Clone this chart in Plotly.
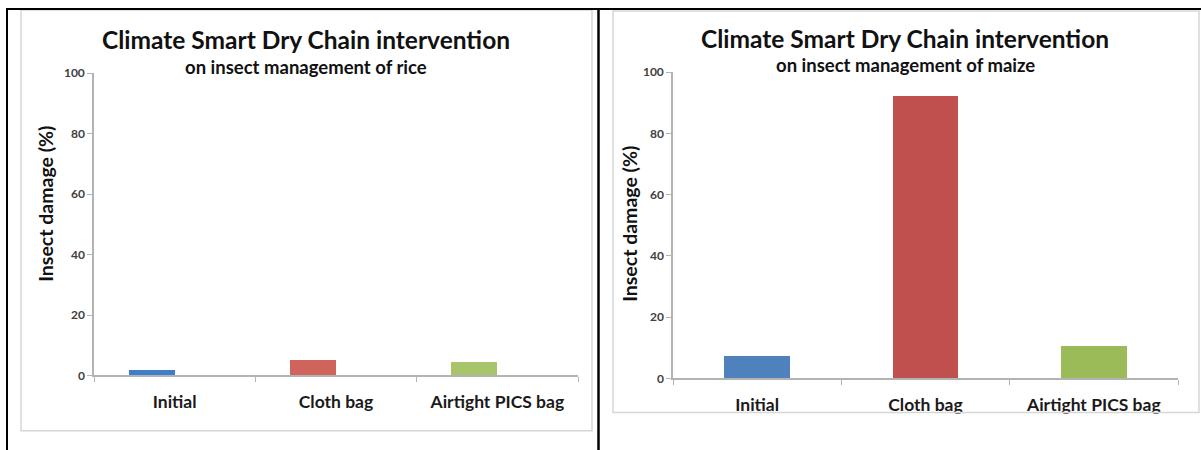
import plotly.graph_objects as go

# ---- data ----
categories = ["Initial", "Cloth bag", "Airtight PICS bag"]
rice_damage = [1.6, 5.2, 4.4]
maize_damage = [7.3, 92.3, 10.5]
y_ticks = [0, 20, 40, 60, 80, 100]

title_text = "Climate Smart Dry Chain intervention"
rice_subtitle = "on insect management of rice"
maize_subtitle = "on insect management of maize"
y_title = "Insect damage (%)"

rice_colors = ["#3F7FC9", "#D0645D", "#A8C56B"]
maize_colors = ["#4F81BD", "#C0504D", "#9BBB59"]

W, H = 1201, 467
OY, SY = 9.0, 0.964   # observed photo mapping: photo_y = SY * page_y + OY
FONT = "Lato"


def px(x):
    return x / W


def py(y):
    page_y = max((y - OY) / SY, 1.0)
    return 1 - page_y / H


fig = go.Figure()

fig.add_trace(go.Bar(
    x=categories, y=rice_damage, marker=dict(color=rice_colors, line=dict(width=0)),
    width=0.286, offset=-0.286, xaxis="x", yaxis="y", showlegend=False,
))
fig.add_trace(go.Bar(
    x=categories, y=maize_damage, marker=dict(color=maize_colors, line=dict(width=0)),
    width=0.39, xaxis="x2", yaxis="y2", showlegend=False,
))

axis_line = "#B3B3B3"
xaxis_common = dict(
    type="category", range=[-0.5, 2.5], showline=True, linecolor=axis_line, linewidth=1.5,
    ticks="outside", tickson="boundaries", ticklen=5, tickcolor=axis_line, tickwidth=1.2,
    showgrid=False, zeroline=False, ticklabelstandoff=10,
    tickfont=dict(family=FONT, size=17.5, color="#1a1a1a", weight="bold"),
)
yaxis_common = dict(
    range=[0, 100], tickvals=y_ticks, showline=True, linecolor=axis_line, linewidth=1.5,
    ticks="outside", ticklen=5, tickcolor=axis_line, tickwidth=1.2,
    showgrid=False, zeroline=False,
    tickfont=dict(family=FONT, size=12, color="#404040", weight="bold"),
)

fig.update_layout(
    width=W, height=H, margin=dict(l=0, r=0, t=0, b=0),
    paper_bgcolor="white", plot_bgcolor="white", bargap=0,
    xaxis=dict(domain=[px(94), px(578)], anchor="y", **xaxis_common),
    yaxis=dict(domain=[py(375), py(74)], anchor="x", **yaxis_common),
    xaxis2=dict(domain=[px(673), px(1178)], anchor="y2", **xaxis_common),
    yaxis2=dict(domain=[py(378), py(73)], anchor="x2", **yaxis_common),
)

shapes = []
# clip area below right chart frame (labels cut off)
shapes.append(dict(type="rect", xref="paper", yref="paper", x0=px(602), x1=1, y0=0, y1=py(413),
                   fillcolor="white", line=dict(width=0), layer="above"))
# chart frames
shapes.append(dict(type="rect", xref="paper", yref="paper", x0=px(21), x1=px(592), y0=py(430), y1=py(11),
                   line=dict(color="#D6D6D6", width=1.5), fillcolor="rgba(0,0,0,0)", layer="above"))
shapes.append(dict(type="rect", xref="paper", yref="paper", x0=px(613), x1=px(1199), y0=py(412), y1=py(12),
                   line=dict(color="#D6D6D6", width=1.5), fillcolor="rgba(0,0,0,0)", layer="above"))
# table borders
shapes.append(dict(type="line", xref="paper", yref="paper", x0=px(6), x1=1, y0=py(7), y1=py(7),
                   line=dict(color="black", width=2), layer="above"))
shapes.append(dict(type="line", xref="paper", yref="paper", x0=px(7), x1=px(7), y0=py(7), y1=0,
                   line=dict(color="black", width=2), layer="above"))
shapes.append(dict(type="line", xref="paper", yref="paper", x0=px(598.5), x1=px(598.5), y0=py(7), y1=0,
                   line=dict(color="black", width=2.5), layer="above"))
fig.update_layout(shapes=shapes)

ann = []
def text(x, y, s, size, angle=0, color="#111111"):
    ann.append(dict(xref="paper", yref="paper", x=px(x), y=py(y), text=s, showarrow=False,
                    xanchor="center", yanchor="middle", textangle=angle,
                    font=dict(family=FONT, size=size, color=color, weight="bold")))

text(306, 40, title_text, 24.5)
text(306, 68, rice_subtitle, 18.5)
text(905, 39, title_text, 24.5)
text(905, 66, maize_subtitle, 18.5)
text(46, 204, y_title, 19.5, angle=-90)
text(630, 224, y_title, 19.5, angle=-90)
fig.update_layout(annotations=ann)

fig.write_html(
    "out.html",
    config={"displayModeBar": False, "responsive": False},
    post_script=(
        "document.documentElement.style.margin='0';"
        "document.documentElement.style.overflow='hidden';"
        "document.body.style.margin='0';"
        "document.body.style.overflow='hidden';"
        "var d=document.getElementById('{plot_id}');"
        "d.style.position='fixed';d.style.top='0px';d.style.left='0px';"
    ),
)
